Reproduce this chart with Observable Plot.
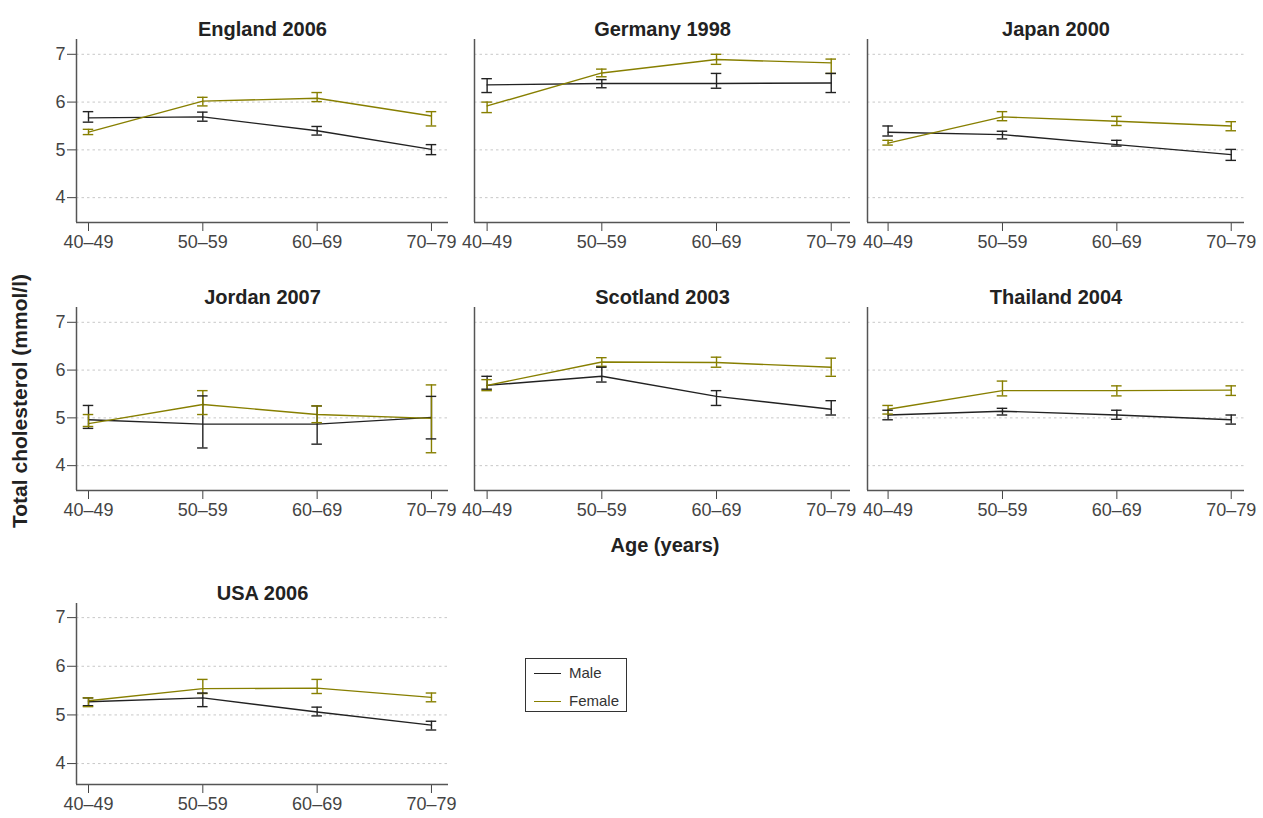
<!DOCTYPE html>
<html>
<head>
<meta charset="utf-8">
<script src="https://cdn.jsdelivr.net/npm/d3@7"></script>
<script src="https://cdn.jsdelivr.net/npm/@observablehq/plot@0.6"></script>
<style>
  html, body { margin: 0; padding: 0; background: #fff; }
  body { width: 1263px; height: 818px; position: relative; overflow: hidden;
         font-family: "Liberation Sans", Arial, sans-serif; }
  .panel { position: absolute; }
  .panel svg { max-width: none !important; display: block; }
  .lbl { position: absolute; font-weight: bold; color: #222; white-space: nowrap; font-size: 20px; }
  #legend { position: absolute; left: 525px; top: 658px; width: 100px; height: 52px;
            border: 1px solid #333; background: #fff; font-size: 15px; color: #333; }
  #legend .row { position: absolute; left: 8px; display: flex; align-items: center; line-height: 18px; }
  #legend .sw { width: 27px; height: 0; border-top: 1.4px solid; margin-right: 8px; }
</style>
</head>
<body>
<div id="root"></div>
<div class="lbl" id="ytitle" style="left:20px; top:401px; font-size:21px; transform: translate(-50%,-50%) rotate(-90deg);">Total cholesterol (mmol/l)</div>
<div class="lbl" style="left:665px; top:545px; transform: translate(-50%,-50%);">Age (years)</div>
<div id="legend">
  <div class="row" style="top:5px;"><div class="sw" style="border-color:#222;"></div>Male</div>
  <div class="row" style="top:33px;"><div class="sw" style="border-color:#877f00;"></div>Female</div>
</div>
<script>
const ageGroups = ["40–49", "50–59", "60–69", "70–79"];
const panelTitles = ["England 2006", "Germany 1998", "Japan 2000", "Jordan 2007", "Scotland 2003", "Thailand 2004", "USA 2006"];
const yTicks = [4, 5, 6, 7];

const maleMean = [
  [5.67, 5.69, 5.40, 5.01],
  [6.36, 6.39, 6.39, 6.40],
  [5.37, 5.32, 5.11, 4.90],
  [4.96, 4.87, 4.87, 5.01],
  [5.68, 5.87, 5.45, 5.18],
  [5.06, 5.14, 5.06, 4.96],
  [5.27, 5.35, 5.06, 4.79]
];
const maleHigh = [
  [5.80, 5.79, 5.49, 5.11],
  [6.49, 6.47, 6.60, 6.60],
  [5.50, 5.39, 5.20, 5.01],
  [5.26, 5.46, 5.25, 5.45],
  [5.87, 6.06, 5.57, 5.36],
  [5.16, 5.20, 5.16, 5.06],
  [5.35, 5.45, 5.16, 4.87]
];
const maleLow = [
  [5.58, 5.60, 5.31, 4.90],
  [6.20, 6.30, 6.29, 6.20],
  [5.29, 5.23, 5.08, 4.78],
  [4.78, 4.37, 4.45, 4.56],
  [5.60, 5.75, 5.26, 5.06],
  [4.96, 5.06, 4.97, 4.87],
  [5.19, 5.17, 4.98, 4.69]
];
const femaleMean = [
  [5.37, 6.02, 6.08, 5.71],
  [5.92, 6.61, 6.89, 6.82],
  [5.14, 5.69, 5.60, 5.50],
  [4.88, 5.28, 5.07, 4.99],
  [5.68, 6.17, 6.16, 6.06],
  [5.18, 5.57, 5.57, 5.58],
  [5.29, 5.54, 5.55, 5.36]
];
const femaleHigh = [
  [5.43, 6.10, 6.20, 5.80],
  [6.00, 6.69, 7.00, 6.90],
  [5.20, 5.80, 5.70, 5.59],
  [5.07, 5.57, 5.25, 5.69],
  [5.80, 6.26, 6.27, 6.25],
  [5.26, 5.77, 5.67, 5.67],
  [5.35, 5.73, 5.73, 5.45]
];
const femaleLow = [
  [5.32, 5.92, 6.01, 5.50],
  [5.78, 6.53, 6.79, 6.60],
  [5.10, 5.61, 5.51, 5.40],
  [4.82, 5.07, 4.90, 4.27],
  [5.57, 6.08, 6.06, 5.87],
  [5.08, 5.46, 5.46, 5.47],
  [5.17, 5.44, 5.44, 5.27]
];

const sexes = ["Male", "Female"];
const sexColors = ["#222222", "#877f00"];

// layout of the facet grid (frame left/top/size per column/row)
const colLeft = [76, 474, 867];
const colWidth = [372, 376, 377];
const colXDomain = [[-0.105, 3.149], [-0.11, 3.168], [-0.18, 3.116]];
const rowTop = [39, 307, 603];
const rowHeight = [183, 183, 181];
const rowYDomain = [[3.48, 7.31], [3.48, 7.31], [3.57, 7.29]];

const mL = 40, mR = 30, mT = 36, mB = 40;
const capHalf = 0.046;
const font = "'Liberation Sans', Arial, sans-serif";

const root = document.getElementById("root");

panelTitles.forEach((title, p) => {
  const col = p % 3, row = Math.floor(p / 3);
  const yDomain = rowYDomain[row];
  const rows = [];
  [[maleMean, maleLow, maleHigh], [femaleMean, femaleLow, femaleHigh]].forEach(([mean, lo, hi], s) => {
    ageGroups.forEach((a, i) => {
      rows.push({sex: sexes[s], i, mean: mean[p][i], lo: lo[p][i], hi: hi[p][i]});
    });
  });
  const W = colWidth[col] + mL + mR, H = rowHeight[row] + mT + mB;
  const chart = Plot.plot({
    width: W,
    height: H,
    marginLeft: mL, marginRight: mR, marginTop: mT, marginBottom: mB,
    style: {fontFamily: font, fontSize: "18px", color: "#444", background: "transparent", overflow: "visible"},
    x: {domain: colXDomain[col], ticks: [0, 1, 2, 3], tickFormat: i => ageGroups[i], tickSize: 9, tickPadding: 4, label: null},
    y: {domain: yDomain, ticks: yTicks, tickFormat: d => String(d), tickSize: 9, tickPadding: 2, label: null, axis: col === 0 ? "left" : null},
    color: {domain: sexes, range: sexColors},
    marks: [
      Plot.ruleY(yTicks, {stroke: "#c8c8c8", strokeDasharray: "2.5,3", strokeWidth: 1}),
      Plot.ruleY([yDomain[0]], {stroke: "#555", strokeWidth: 1.5}),
      Plot.ruleX([colXDomain[col][0]], {stroke: "#555", strokeWidth: 1.5}),
      Plot.line(rows, {x: "i", y: "mean", z: "sex", stroke: "sex", strokeWidth: 1.4}),
      Plot.ruleX(rows, {x: "i", y1: "lo", y2: "hi", stroke: "sex", strokeWidth: 1.4}),
      Plot.ruleY(rows, {y: "lo", x1: d => d.i - capHalf, x2: d => d.i + capHalf, stroke: "sex", strokeWidth: 1.4}),
      Plot.ruleY(rows, {y: "hi", x1: d => d.i - capHalf, x2: d => d.i + capHalf, stroke: "sex", strokeWidth: 1.4}),
      Plot.text([title], {frameAnchor: "top", dy: -18, fontWeight: "bold", fontSize: 20, fill: "#222"})
    ]
  });
  const wrap = document.createElement("div");
  wrap.className = "panel";
  wrap.style.left = (colLeft[col] - mL) + "px";
  wrap.style.top = (rowTop[row] - mT) + "px";
  wrap.style.width = W + "px";
  wrap.style.height = H + "px";
  wrap.appendChild(chart);
  root.appendChild(wrap);
});
</script>
</body>
</html>
